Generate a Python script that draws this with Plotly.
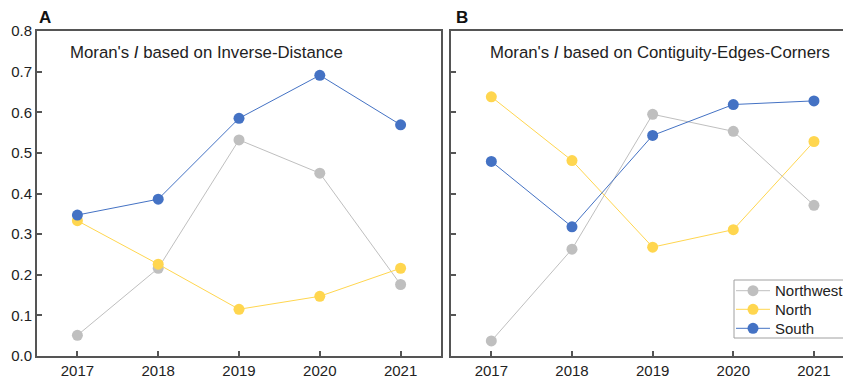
import plotly.graph_objects as go

# Years on the x axis
years = [2017, 2018, 2019, 2020, 2021]
year_labels = ["2017", "2018", "2019", "2020", "2021"]

# Panel A: Moran's I based on Inverse-Distance
inv_northwest = [0.051, 0.216, 0.532, 0.450, 0.176]
inv_north = [0.333, 0.226, 0.115, 0.147, 0.216]
inv_south = [0.347, 0.386, 0.585, 0.691, 0.569]

# Panel B: Moran's I based on Contiguity-Edges-Corners
con_northwest = [0.037, 0.263, 0.595, 0.553, 0.371]
con_north = [0.638, 0.481, 0.268, 0.311, 0.528]
con_south = [0.479, 0.318, 0.543, 0.619, 0.628]

region_names = ["Northwest", "North", "South"]
region_colors = ["#BFBFBF", "#FFD64F", "#4472C4"]

y_ticks = [0.0, 0.1, 0.2, 0.3, 0.4, 0.5, 0.6, 0.7, 0.8]
y_tick_labels = ["0.0", "0.1", "0.2", "0.3", "0.4", "0.5", "0.6", "0.7", "0.8"]

W, H = 843, 380
FONT = "Liberation Sans, Arial, sans-serif"
FRAME = "#555555"
TEXT = "#222222"

fig = go.Figure()

panels = [
    ("x", "y", [inv_northwest, inv_north, inv_south]),
    ("x2", "y2", [con_northwest, con_north, con_south]),
]
for xa, ya, series in panels:
    for name, color, vals in zip(region_names, region_colors, series):
        fig.add_trace(go.Scatter(
            x=years, y=vals, name=name, xaxis=xa, yaxis=ya,
            mode="lines+markers",
            line=dict(color=color, width=1),
            marker=dict(color=color, size=11),
            showlegend=False,
        ))

y_dom = [(H - 356) / H, (H - 31) / H]
common_x = dict(
    tickmode="array", tickvals=years, ticktext=year_labels,
    ticks="inside", ticklen=5, tickwidth=1.5, tickcolor=FRAME,
    showline=True, linecolor=FRAME, linewidth=2, mirror=True,
    showgrid=False, zeroline=False,
    tickfont=dict(family=FONT, size=15, color=TEXT),
)
common_y = dict(
    range=[0, 0.8], tickmode="array", tickvals=y_ticks,
    ticks="inside", ticklen=5, tickwidth=1.5, tickcolor=FRAME,
    showline=True, linecolor=FRAME, linewidth=2,
    showgrid=False, zeroline=False, domain=y_dom,
    tickfont=dict(family=FONT, size=15, color=TEXT),
)

fig.update_layout(
    width=W, height=H,
    margin=dict(l=0, r=0, t=0, b=0, autoexpand=False),
    paper_bgcolor="white", plot_bgcolor="white",
    xaxis=dict(common_x, domain=[37 / W, 441 / W], range=[2016.5, 2021.5]),
    yaxis=dict(common_y, ticktext=y_tick_labels, mirror=True),
    xaxis2=dict(common_x, domain=[451 / W, 1.0], range=[2016.5, 2021.36], anchor="y2"),
    yaxis2=dict(common_y, ticktext=[""] * len(y_ticks), showticklabels=False,
                mirror=False, anchor="x2"),
    showlegend=False,
    font=dict(family=FONT, size=14, color=TEXT),
)

# Panel titles
annotations = [
    dict(text="Moran's <i>I</i> based on Inverse-Distance", x=68 / W, y=(H - 53) / H),
    dict(text="Moran's <i>I</i> based on Contiguity-Edges-Corners", x=488 / W, y=(H - 53) / H),
]
for a in annotations:
    fig.add_annotation(xref="paper", yref="paper", xanchor="left", yanchor="middle",
                       showarrow=False, font=dict(family=FONT, size=16.8, color=TEXT), **a)

# Panel letters
for label, xp in [("A", 37 / W), ("B", 454 / W)]:
    fig.add_annotation(text=f"<b>{label}</b>", xref="paper", yref="paper",
                       x=xp, y=(H - 17) / H, xanchor="left", yanchor="middle",
                       showarrow=False, font=dict(family=FONT, size=17, color="#111111"))

# Legend box in panel B (its right side runs past the figure edge)
leg_left, leg_top, leg_bottom = 734, 280, 338
fig.add_shape(type="rect", xref="paper", yref="paper",
              x0=leg_left / W, x1=1.05, y0=(H - leg_bottom) / H, y1=(H - leg_top) / H,
              line=dict(color="#A0A0A0", width=1), fillcolor="white", layer="above")
row_centers = [290.7, 309.3, 328.3]
for name, color, yc in zip(region_names, region_colors, row_centers):
    yp = (H - yc) / H
    fig.add_shape(type="line", xref="paper", yref="paper",
                  x0=736 / W, x1=770 / W, y0=yp, y1=yp,
                  line=dict(color=color, width=1), layer="above")
    r = 5.5
    fig.add_shape(type="circle", xref="paper", yref="paper",
                  x0=(753 - r) / W, x1=(753 + r) / W,
                  y0=(H - yc - r) / H, y1=(H - yc + r) / H,
                  fillcolor=color, line=dict(width=0), layer="above")
    fig.add_annotation(text=name, xref="paper", yref="paper",
                       x=773 / W, y=yp, xanchor="left", yanchor="middle",
                       showarrow=False, font=dict(family=FONT, size=15, color=TEXT))

fig.write_html("out.html")
